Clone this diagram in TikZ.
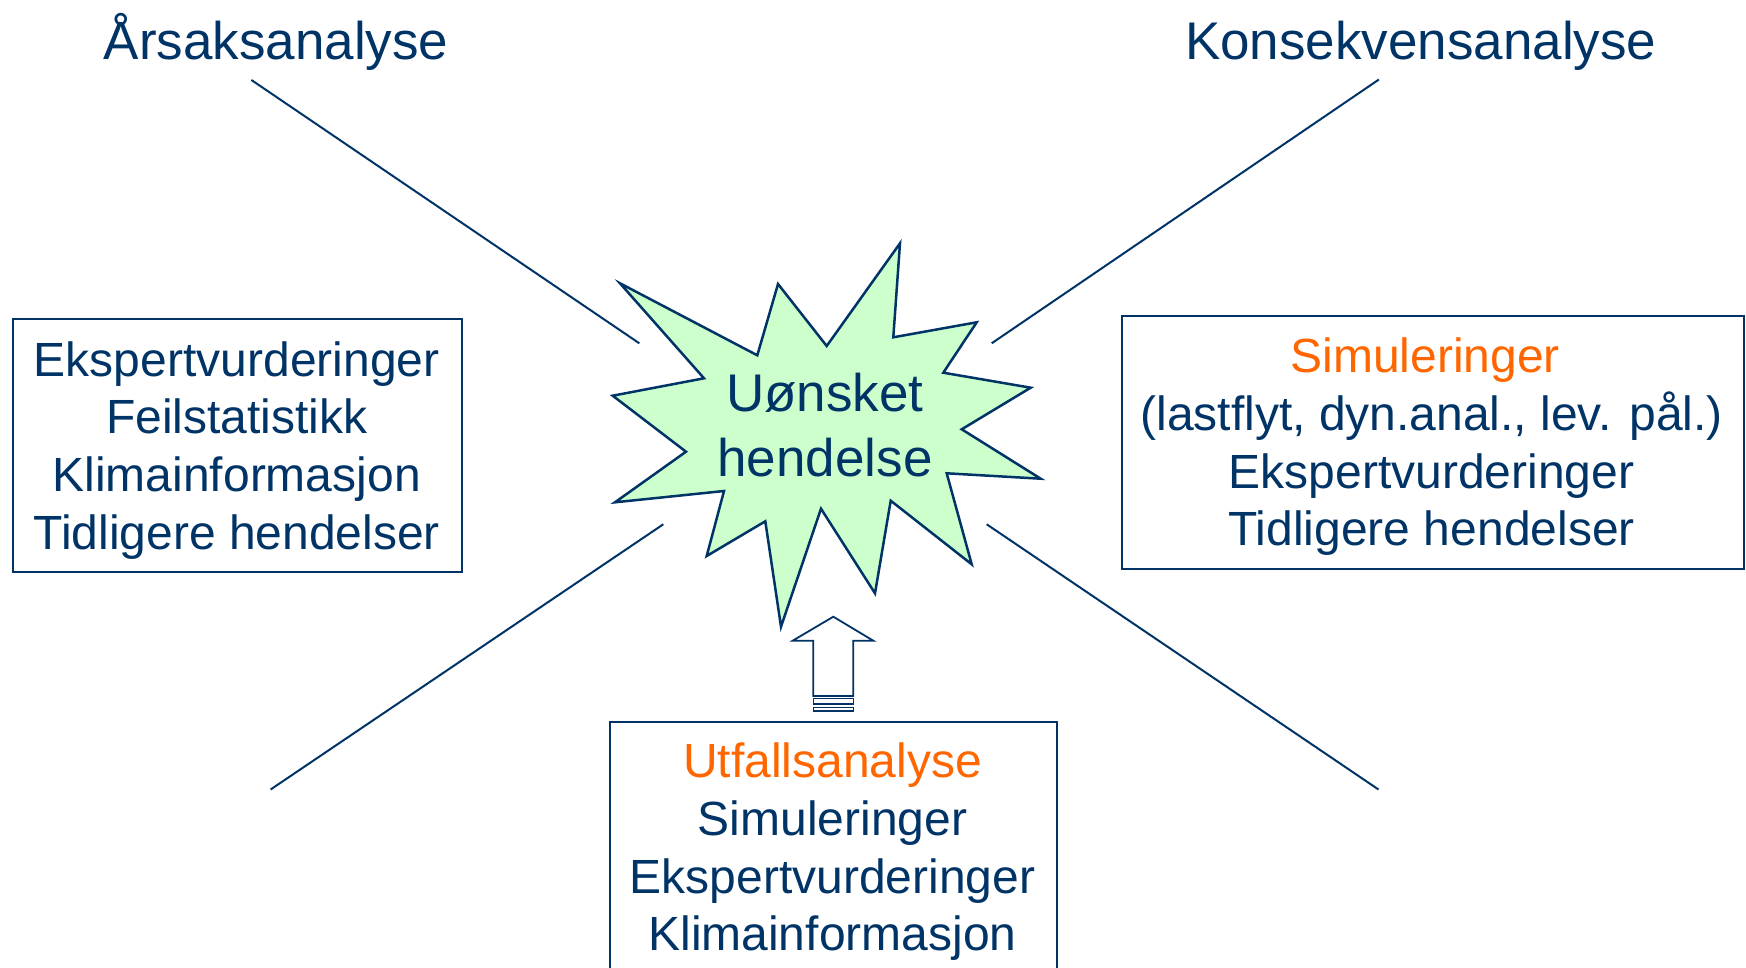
\documentclass[tikz,border=0pt]{standalone}
\usepackage{fontspec}
\setmainfont{Liberation Sans}
\definecolor{navy}{RGB}{0,51,102}
\definecolor{orng}{RGB}{255,102,0}
\definecolor{lightgreen}{RGB}{204,255,204}
\newcommand\stackedlines[1]{\begin{tabular}[t]{@{}c@{}}#1\end{tabular}}
\tikzset{
  bigtext/.style={font=\fontsize{53}{64.3}\selectfont, text=navy, inner sep=0pt, anchor=base},
  boxtext/.style={font=\fontsize{48}{57.7}\selectfont, text=navy, inner sep=0pt, anchor=base},
  infobox/.style={draw=navy, line width=2pt, rectangle, inner sep=0pt, anchor=north west},
  ray/.style={draw=navy, line width=2pt},
  burst/.style={draw=navy, line width=2.5pt, fill=lightgreen, line join=miter},
  uparrow/.style={draw=navy, line width=1.8pt, fill=white},
}
\begin{document}
\begin{tikzpicture}[x=1pt,y=-1pt]
\useasboundingbox (0,0) rectangle (1746,968);
\clip (0,0) rectangle (1746,968);
\fill[white] (0,0) rectangle (1746,968);

% titles
\node[bigtext] (cause) at (276,60) {Årsaksanalyse};
\node[bigtext] (conseq) at (1420.7,59.3) {Konsekvensanalyse};

% rays
\coordinate (r1a) at (251.4,80);   \coordinate (r1b) at (639.3,343.3);
\coordinate (r2a) at (1378.9,79.5); \coordinate (r2b) at (991.7,343.3);
\coordinate (r3a) at (663.3,524.3); \coordinate (r3b) at (270.6,789.5);
\coordinate (r4a) at (986.7,524.3); \coordinate (r4b) at (1378.5,789.5);
\draw[ray] (r1a) -- (r1b);
\draw[ray] (r2a) -- (r2b);
\draw[ray] (r3a) -- (r3b);
\draw[ray] (r4a) -- (r4b);

% explosion
\draw[burst] (900,243.3) -- (893.3,337.3) -- (976.7,322.3) -- (943.3,372.7)
  -- (1030.7,387.7) -- (961.7,429.3) -- (1040.7,478.7) -- (946.7,473.3)
  -- (971.7,564.3) -- (890.7,500.7) -- (875,593.3) -- (821,508.7)
  -- (781,626.7) -- (765.3,521.3) -- (706.7,556) -- (724,491)
  -- (615,502.3) -- (686,451.7) -- (612.7,395.7) -- (704,378.3)
  -- (620,283.3) -- (757.3,355.3) -- (778,284) -- (826.7,346) -- cycle;
\node[bigtext] (event) at (825,411.7) {\stackedlines{Uønsket\\hendelse}};

% left box
\node[infobox, minimum width=449pt, minimum height=252.4pt] (leftbox) at (11.7,318.3) {};
\node[boxtext] (lefttext) at (236.7,376) {\stackedlines{Ekspertvurderinger\\Feilstatistikk\\Klimainformasjon\\Tidligere hendelser}};

% right box
\node[infobox, minimum width=622pt, minimum height=252pt] (rightbox) at (1120.6,315.5) {};
\node[boxtext] (righttext) at (1431.6,372.7) {\stackedlines{\textcolor{orng}{Simuleringer}\hspace*{13pt}\\(lastflyt, dyn.anal., lev. pål.)\\Ekspertvurderinger\\Tidligere hendelser}};

% bottom box
\node[infobox, minimum width=446.7pt, minimum height=300pt] (bottombox) at (609,720.7) {};
\node[boxtext] (bottomtext) at (832.4,777.7) {\stackedlines{\textcolor{orng}{Utfallsanalyse}\\Simuleringer\\Ekspertvurderinger\\Klimainformasjon}};

% striped up arrow
\draw[uparrow] (833.3,616.7) -- (873.3,640.7) -- (853.3,640.7) -- (853.3,696)
  -- (813.3,696) -- (813.3,640.7) -- (792.7,640.7) -- cycle;
\draw[uparrow, line width=1.5pt] (813.3,698.7) rectangle (853.3,704);
\draw[uparrow, line width=1.5pt] (813.3,707.3) rectangle (853.3,711);
\end{tikzpicture}
\end{document}
